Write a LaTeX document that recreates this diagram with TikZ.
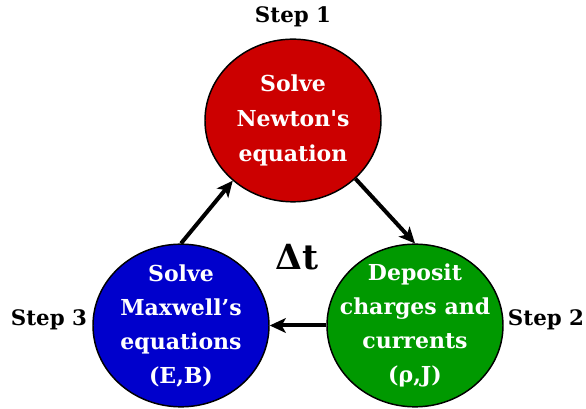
\documentclass[tikz,border=0pt]{standalone}
\usepackage{fontspec}
\setmainfont{DejaVu Serif}
\usepackage{tikz}
\usetikzlibrary{arrows.meta,shapes.geometric}

\definecolor{newtonred}{RGB}{204,0,0}
\definecolor{depositgreen}{RGB}{0,153,0}
\definecolor{maxwellblue}{RGB}{0,0,204}

\begin{document}
\begin{tikzpicture}[x=0.75pt,y=-0.75pt,>={Stealth[length=12pt,width=11pt,inset=3pt]},
  bubble/.style={ellipse,draw=black,line width=1.1pt,minimum width=132pt,minimum height=122pt,
    inner sep=-20pt,align=center,text=white,font=\fontsize{16.5}{25.5}\selectfont\bfseries},
  steplabel/.style={font=\fontsize{16}{20}\selectfont\bfseries,inner sep=0pt},
  flow/.style={->,line width=3pt}]
  \useasboundingbox (0,0) rectangle (586,409);
  \node[bubble,fill=newtonred,font=\fontsize{16.5}{26}\selectfont\bfseries] (newton) at (293,120.5)
    {Solve\\Newton\textquotesingle s\\equation};
  \node[bubble,fill=depositgreen] (deposit) at (415,325.5)
    {Deposit\\charges and\\currents\\(ρ,J)};
  \node[bubble,fill=maxwellblue] (maxwell) at (181,325.5)
    {Solve\\Maxwell’s\\equations\\(E,B)};
  \node[steplabel] (s1) at (293,17) {Step 1};
  \node[steplabel] (s2) at (546,320) {Step 2};
  \node[steplabel] (s3) at (49,320) {Step 3};
  \node[font=\fontsize{26}{30}\selectfont\bfseries] (dt) at (297,257) {Δt};
  \draw[flow] (newton.-43) -- (deposit.north);
  \draw[flow] (deposit.west) -- (maxwell.east);
  \draw[flow] (maxwell.north) -- (newton.225);
\end{tikzpicture}
\end{document}
